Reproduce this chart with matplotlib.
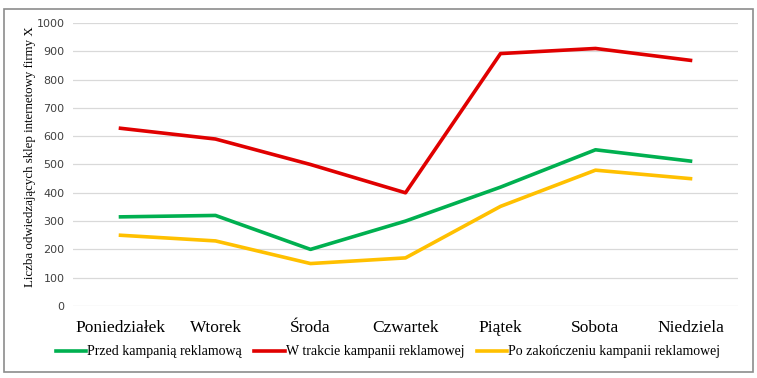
import numpy as np
import matplotlib.pyplot as plt
from matplotlib.patches import Rectangle

days = ['Poniedziałek', 'Wtorek', 'Środa', 'Czwartek', 'Piątek', 'Sobota', 'Niedziela']
przed = [315, 320, 200, 300, 420, 552, 512]
w_trakcie = [628, 590, 500, 400, 892, 910, 868]
po = [250, 230, 150, 170, 352, 480, 450]
series_names = ['Przed kampanią reklamową', 'W trakcie kampanii reklamowej',
                'Po zakończeniu kampanii reklamowej']

fig = plt.figure(figsize=(7.57, 3.78), dpi=100)
ax = fig.add_axes([73/757, 1-306/378, (738-73)/757, (306-23)/378])

x = np.arange(len(days))
colors = ['#00B050', '#E00000', '#FFC000']
for vals, name, c in zip([przed, w_trakcie, po], series_names, colors):
    ax.plot(x, vals, color=c, lw=2.6, label=name, solid_joinstyle='round')

ax.set_xlim(-0.5, len(days) - 0.5)
ax.set_ylim(0, 1000)
ax.set_yticks(range(0, 1001, 100))
ax.set_xticks(x)
ax.set_xticklabels(days, family='Liberation Serif', fontsize=12.5)
ax.tick_params(axis='y', labelsize=8, labelcolor='#404040', length=0, pad=6)
ax.tick_params(axis='x', length=0, pad=10)
for lab in ax.get_yticklabels():
    lab.set_family('DejaVu Sans')
ax.grid(axis='y', color='#D9D9D9', lw=0.9)
ax.set_axisbelow(True)
for s in ax.spines.values():
    s.set_visible(False)

fig.text(0.040, 0.585, 'Liczba odwiedzających sklep internetowy firmy X',
         rotation=90, ha='center', va='center', family='Liberation Serif', fontsize=9.3)

leg = fig.legend(loc='center', bbox_to_anchor=(388/757, 1-352/378), ncol=3, frameon=False,
                 prop={'family': 'Liberation Serif', 'size': 10},
                 handlelength=2.2, handletextpad=0.05, columnspacing=0.9)

fig.patches.append(Rectangle((4/757, 1-372/378), 749/757, 363/378, transform=fig.transFigure,
                             fill=False, edgecolor='#8C8C8C', lw=1.2))

fig.savefig('out.png', dpi=100)
